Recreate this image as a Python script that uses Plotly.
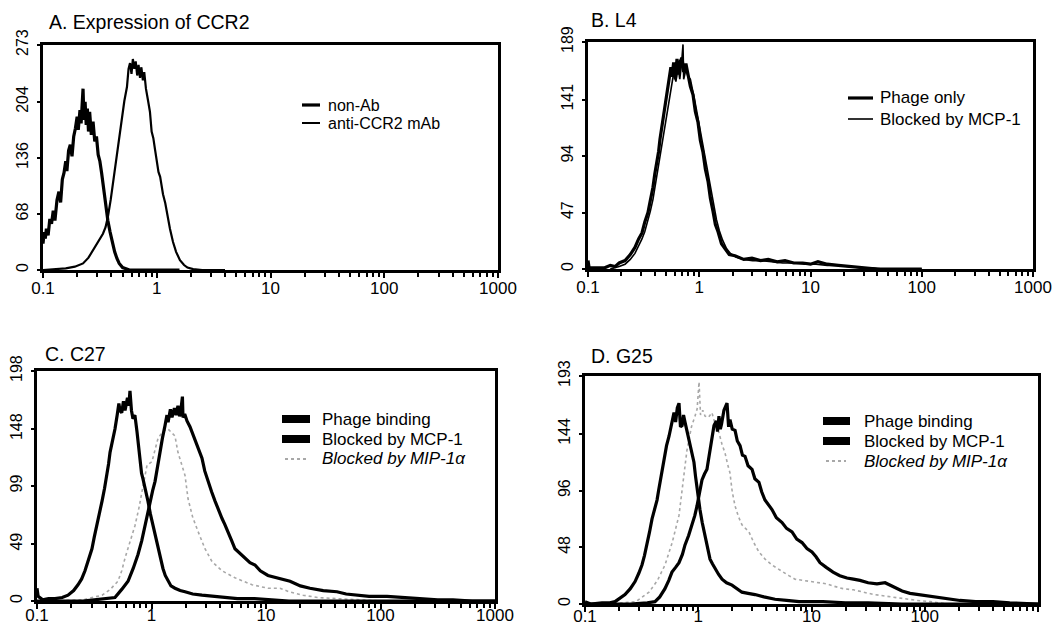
import numpy as np
import plotly.graph_objects as go

# ---------------- data (log10 fluorescence intensity, cell count) ----------------
# Panel A: Expression of CCR2
a_nonab = [(-1.00, 32), (-0.99, 46), (-0.98, 38), (-0.97, 50), (-0.955, 42), (-0.94, 62), (-0.925, 56),
           (-0.91, 72), (-0.895, 60), (-0.877, 85), (-0.86, 95), (-0.845, 82), (-0.83, 110), (-0.815, 118),
           (-0.80, 132), (-0.79, 120), (-0.775, 145), (-0.76, 152), (-0.745, 138), (-0.73, 162), (-0.715, 172),
           (-0.70, 186), (-0.69, 170), (-0.675, 194), (-0.665, 178), (-0.655, 208), (-0.648, 220), (-0.64, 182),
           (-0.63, 204), (-0.62, 176), (-0.61, 196), (-0.60, 168), (-0.59, 192), (-0.575, 164), (-0.56, 180),
           (-0.545, 156), (-0.53, 162), (-0.515, 140), (-0.50, 132), (-0.485, 118), (-0.47, 101), (-0.45, 80),
           (-0.43, 60), (-0.41, 46), (-0.39, 32), (-0.37, 22), (-0.35, 14), (-0.33, 8), (-0.30, 3),
           (-0.27, 1), (-0.24, 0), (0.2, 0)]
a_anti = [(-1.00, 0), (-0.90, 1), (-0.80, 2), (-0.72, 4), (-0.648, 8), (-0.60, 15), (-0.56, 24), (-0.52, 33),
          (-0.473, 44), (-0.45, 52), (-0.429, 65), (-0.405, 85), (-0.385, 105), (-0.362, 128), (-0.341, 150),
          (-0.322, 170), (-0.305, 186), (-0.285, 205), (-0.262, 222), (-0.248, 244), (-0.235, 251),
          (-0.222, 238), (-0.21, 256), (-0.197, 244), (-0.185, 253), (-0.172, 236), (-0.16, 249),
          (-0.147, 233), (-0.135, 246), (-0.122, 230), (-0.11, 240), (-0.095, 220), (-0.077, 206),
          (-0.06, 192), (-0.045, 168), (-0.03, 160), (-0.015, 146), (0.00, 134), (0.015, 119), (0.03, 113),
          (0.055, 92), (0.075, 81), (0.09, 69), (0.116, 50), (0.143, 34), (0.17, 22), (0.204, 12),
          (0.24, 6), (0.27, 3), (0.32, 1), (0.40, 0), (0.6, 0)]

# Panel B: L4
b_phage = [(-1.0, 7), (-0.99, 1), (-0.95, 1), (-0.85, 1), (-0.80, 3), (-0.757, 2), (-0.72, 5), (-0.667, 7),
           (-0.62, 12), (-0.578, 18), (-0.545, 25), (-0.515, 30), (-0.49, 39), (-0.461, 47), (-0.44, 57),
           (-0.416, 68), (-0.40, 79), (-0.38, 88), (-0.365, 98), (-0.353, 108), (-0.33, 123), (-0.308, 136),
           (-0.285, 150), (-0.27, 158), (-0.255, 168), (-0.245, 160), (-0.23, 172), (-0.215, 158),
           (-0.2, 175), (-0.185, 162), (-0.17, 173), (-0.155, 176), (-0.14, 164), (-0.12, 171),
           (-0.101, 162), (-0.08, 152), (-0.056, 145), (-0.035, 131), (-0.011, 122), (0.01, 107),
           (0.034, 97), (0.055, 83), (0.079, 73), (0.10, 59), (0.124, 48), (0.145, 37), (0.169, 31),
           (0.20, 21), (0.231, 17), (0.27, 12), (0.321, 11), (0.40, 8), (0.474, 9), (0.55, 7), (0.62, 8),
           (0.70, 6), (0.771, 7), (0.85, 5), (0.93, 5), (1.0, 4), (1.067, 6), (1.15, 4), (1.25, 3),
           (1.355, 2), (1.45, 1), (1.6, 0), (2.0, 0)]
b_mcp1 = [(-0.80, 0), (-0.72, 2), (-0.667, 4), (-0.62, 8), (-0.578, 13), (-0.545, 19), (-0.515, 25),
          (-0.49, 31), (-0.461, 40), (-0.44, 48), (-0.416, 58), (-0.395, 70), (-0.375, 82), (-0.355, 92),
          (-0.34, 100), (-0.315, 116), (-0.295, 128), (-0.272, 142), (-0.25, 152), (-0.23, 163),
          (-0.21, 156), (-0.19, 168), (-0.175, 158), (-0.16, 170), (-0.146, 187), (-0.14, 158),
          (-0.12, 166), (-0.10, 160), (-0.08, 158), (-0.06, 150), (-0.04, 140), (-0.02, 130), (0.00, 120),
          (0.02, 110), (0.045, 97), (0.065, 86), (0.09, 74), (0.11, 62), (0.135, 50), (0.155, 41),
          (0.18, 32), (0.21, 24), (0.245, 17), (0.28, 13), (0.33, 10), (0.40, 8), (0.48, 7), (0.56, 7),
          (0.65, 6), (0.75, 5), (0.85, 5), (0.95, 4), (1.05, 4), (1.15, 3), (1.25, 3), (1.35, 2),
          (1.45, 1), (1.55, 1), (1.65, 0), (2.0, 0)]

# Panel C: C27
c_phage = [(-1.0, 0), (-0.6, 0), (-0.5, 1), (-0.40, 2), (-0.319, 3), (-0.26, 10), (-0.205, 17), (-0.16, 28),
           (-0.118, 40), (-0.085, 52), (-0.057, 65), (-0.035, 76), (-0.013, 86), (0.01, 95), (0.031, 103),
           (0.05, 115), (0.074, 129), (0.095, 140), (0.118, 151), (0.135, 160), (0.145, 154), (0.165, 165),
           (0.179, 158), (0.20, 166), (0.215, 160), (0.231, 168), (0.245, 159), (0.255, 163), (0.27, 176),
           (0.275, 158), (0.29, 161), (0.31, 155), (0.336, 150), (0.36, 144), (0.38, 140), (0.41, 131),
           (0.441, 123), (0.465, 112), (0.493, 103), (0.525, 94), (0.555, 86), (0.585, 78), (0.616, 71),
           (0.64, 66), (0.668, 60), (0.70, 52), (0.729, 45), (0.76, 42), (0.79, 39), (0.817, 37),
           (0.86, 33), (0.904, 31), (0.95, 26), (1.017, 22), (1.10, 20), (1.21, 17), (1.30, 13),
           (1.384, 11), (1.50, 9), (1.62, 8), (1.70, 6), (1.795, 5), (1.90, 4), (2.057, 4), (2.2, 3),
           (2.345, 2), (2.5, 1), (2.633, 1), (2.8, 0), (3.0, 0)]
c_mcp1 = [(-1.0, 11), (-0.99, 4), (-0.95, 1), (-0.90, 2), (-0.843, 2), (-0.78, 3), (-0.729, 5), (-0.68, 9),
          (-0.642, 14), (-0.61, 19), (-0.581, 26), (-0.55, 35), (-0.52, 45), (-0.50, 55), (-0.476, 65),
          (-0.455, 75), (-0.432, 86), (-0.41, 97), (-0.389, 108), (-0.375, 118), (-0.362, 128), (-0.34, 138),
          (-0.319, 148), (-0.30, 160), (-0.285, 170), (-0.275, 164), (-0.26, 162), (-0.245, 172),
          (-0.231, 164), (-0.21, 175), (-0.198, 168), (-0.188, 181), (-0.175, 164), (-0.162, 157),
          (-0.145, 160), (-0.127, 146), (-0.113, 132), (-0.10, 120), (-0.087, 110), (-0.074, 105),
          (-0.05, 95), (-0.031, 86), (-0.01, 75), (0.013, 65), (0.035, 55), (0.057, 45), (0.08, 36),
          (0.10, 28), (0.12, 22), (0.144, 17), (0.17, 13), (0.205, 11), (0.25, 9), (0.293, 8), (0.36, 6),
          (0.441, 5), (0.53, 4), (0.616, 3), (0.75, 2), (0.9, 2), (1.05, 1), (1.2, 0), (3.0, 0)]
c_mip1a = [(-0.9, 0), (-0.6, 1), (-0.432, 5), (-0.36, 10), (-0.293, 17), (-0.26, 26), (-0.231, 37),
           (-0.19, 50), (-0.144, 65), (-0.11, 80), (-0.083, 94), (-0.06, 105), (-0.039, 117), (0.004, 120),
           (0.03, 130), (0.057, 140), (0.10, 146), (0.144, 148), (0.175, 145), (0.205, 142), (0.231, 128),
           (0.26, 118), (0.293, 108), (0.319, 88), (0.36, 72), (0.406, 60), (0.467, 45), (0.528, 34),
           (0.616, 26), (0.729, 20), (0.80, 17), (0.878, 14), (1.017, 11), (1.122, 11), (1.2, 8),
           (1.323, 5), (1.45, 3), (1.62, 2), (1.8, 1), (2.0, 0)]

# Panel D: G25
d_phage = [(-1.0, 0), (-0.6, 0), (-0.45, 1), (-0.382, 2), (-0.34, 6), (-0.294, 13), (-0.26, 20), (-0.232, 27),
           (-0.20, 31), (-0.17, 35), (-0.14, 42), (-0.117, 50), (-0.085, 58), (-0.055, 67), (-0.03, 75),
           (-0.011, 83), (0.01, 94), (0.033, 105), (0.055, 110), (0.077, 114), (0.09, 122), (0.104, 131),
           (0.12, 140), (0.139, 151), (0.16, 155), (0.17, 146), (0.183, 159), (0.195, 148), (0.205, 152),
           (0.227, 164), (0.254, 170), (0.268, 150), (0.28, 156), (0.30, 148), (0.325, 147), (0.345, 138),
           (0.369, 134), (0.39, 126), (0.413, 125), (0.44, 117), (0.475, 114), (0.50, 106), (0.536, 103),
           (0.56, 95), (0.589, 88), (0.62, 84), (0.651, 80), (0.69, 73), (0.74, 69), (0.78, 64),
           (0.828, 61), (0.87, 55), (0.916, 52), (0.96, 47), (1.004, 44), (1.04, 40), (1.075, 35),
           (1.13, 31), (1.19, 27), (1.25, 24), (1.313, 22), (1.37, 21), (1.428, 20), (1.5, 18), (1.578, 17),
           (1.65, 18), (1.72, 15), (1.80, 11), (1.87, 9), (1.95, 8), (2.02, 7), (2.1, 6), (2.161, 5),
           (2.25, 4), (2.311, 3), (2.45, 2), (2.603, 2), (2.75, 1), (2.9, 0), (3.0, 0)]
d_mcp1 = [(-1.0, 2), (-0.95, 0), (-0.85, 1), (-0.78, 1), (-0.735, 2), (-0.69, 5), (-0.647, 8), (-0.60, 13),
          (-0.558, 19), (-0.525, 26), (-0.497, 33), (-0.475, 41), (-0.453, 50), (-0.43, 61), (-0.408, 72),
          (-0.385, 80), (-0.364, 88), (-0.35, 96), (-0.338, 103), (-0.32, 114), (-0.302, 125), (-0.28, 134),
          (-0.258, 142), (-0.24, 150), (-0.225, 158), (-0.214, 162), (-0.2, 154), (-0.185, 166),
          (-0.17, 170), (-0.157, 150), (-0.143, 151), (-0.13, 160), (-0.117, 154), (-0.10, 146),
          (-0.082, 139), (-0.06, 130), (-0.038, 120), (-0.024, 108), (-0.011, 97), (0.015, 80), (0.035, 69),
          (0.06, 58), (0.08, 48), (0.104, 38), (0.125, 34), (0.148, 30), (0.18, 25), (0.21, 21), (0.25, 18),
          (0.298, 16), (0.34, 13), (0.386, 10), (0.44, 9), (0.501, 8), (0.58, 6), (0.678, 4), (0.78, 3),
          (0.89, 2), (1.1, 2), (1.3, 1), (1.5, 1), (1.8, 0), (3.0, 0)]
d_mip1a = [(-0.8, 0), (-0.55, 2), (-0.435, 10), (-0.36, 20), (-0.294, 33), (-0.23, 52), (-0.17, 75),
           (-0.14, 98), (-0.117, 120), (-0.1, 130), (-0.082, 139), (-0.06, 150), (-0.029, 159), (-0.01, 165),
           (0.007, 188), (0.02, 160), (0.04, 164), (0.06, 159), (0.09, 158), (0.121, 162), (0.15, 152),
           (0.183, 145), (0.21, 135), (0.236, 128), (0.26, 118), (0.28, 111), (0.30, 95), (0.325, 83),
           (0.355, 74), (0.386, 67), (0.448, 61), (0.49, 52), (0.536, 44), (0.59, 38), (0.651, 33),
           (0.70, 30), (0.74, 27), (0.80, 24), (0.854, 21), (0.92, 20), (0.978, 19), (1.05, 18),
           (1.137, 17), (1.2, 15), (1.278, 13), (1.37, 12), (1.455, 10), (1.55, 8), (1.631, 7), (1.70, 6),
           (1.781, 5), (1.85, 4), (1.932, 3), (2.05, 2), (2.2, 0)]

x_ticks = [0.1, 1, 10, 100, 1000]
x_ticktext = ["0.1", "1", "10", "100", "1000"]
y_ticks_a = [0, 68, 136, 204, 273]
y_ticks_b = [0, 47, 94, 141, 189]
y_ticks_c = [0, 49, 99, 148, 198]
y_ticks_d = [0, 48, 96, 144, 193]
titles = ["A. Expression of CCR2", "B. L4", "C. C27", "D. G25"]

# ---------------- figure ----------------
# The page body keeps an 8px margin, so the figure is 16px smaller than the window
# and all placements below are given in window pixels.
OFF = 8
W, H = 1044, 616
FONT = "Liberation Sans, Arial, Helvetica, sans-serif"
BLACK = "black"
GRAY = "#a8a8a8"


def xy(series):
    arr = np.array(series, dtype=float)
    return 10 ** arr[:, 0], arr[:, 1]


def fx(p):
    return (p - OFF) / W


def fy(p):
    return 1 - (p - OFF) / H


fig = go.Figure()


def add(series, name, xa, ya, width, color=BLACK, dash="solid"):
    x, y = xy(series)
    fig.add_trace(go.Scatter(x=x, y=y, mode="lines", name=name, xaxis=xa, yaxis=ya,
                             line=dict(color=color, width=width, dash=dash),
                             showlegend=False, hoverinfo="skip"))


# A
add(a_nonab, "non-Ab", "x", "y", 3.2)
add(a_anti, "anti-CCR2 mAb", "x", "y", 2.2)
# B
add(b_mcp1, "Blocked by MCP-1", "x2", "y2", 1.6)
add(b_phage, "Phage only", "x2", "y2", 3.2)
# C
add(c_mip1a, "Blocked by MIP-1α", "x3", "y3", 1.6, color=GRAY, dash="dot")
add(c_phage, "Phage binding", "x3", "y3", 3.2)
add(c_mcp1, "Blocked by MCP-1", "x3", "y3", 3.2)
# D
add(d_mip1a, "Blocked by MIP-1α", "x4", "y4", 1.6, color=GRAY, dash="dot")
add(d_phage, "Phage binding", "x4", "y4", 3.2)
add(d_mcp1, "Blocked by MCP-1", "x4", "y4", 3.2)

minor_vals = [m * 10 ** e for e in range(-1, 3) for m in range(2, 10)]


def xaxis(domain, anchor, standoff=-4):
    return dict(domain=domain, anchor=anchor, type="log", range=[-1, 3],
                tickvals=x_ticks, ticktext=x_ticktext, ticks="outside", ticklen=5, tickwidth=2,
                tickcolor=BLACK, showline=True, linewidth=2.5, linecolor=BLACK, mirror=True,
                showgrid=False, zeroline=False, ticklabelstandoff=standoff, automargin=False,
                tickfont=dict(family=FONT, size=17, color=BLACK),
                minor=dict(tickvals=minor_vals, ticks="outside", ticklen=4, tickwidth=1.5,
                           tickcolor=BLACK, showgrid=False))


def yaxis(domain, anchor, ticks):
    return dict(domain=domain, anchor=anchor, range=[0, ticks[-1]], tickvals=ticks,
                ticktext=[str(t) for t in ticks], tickangle=-90, ticks="outside", ticklen=3,
                tickwidth=1.5, tickcolor=BLACK, showline=True, linewidth=2.5, linecolor=BLACK,
                mirror=True, showgrid=False, zeroline=False, ticklabelstandoff=3, automargin=False,
                tickfont=dict(family=FONT, size=16, color=BLACK))


boxes = {  # window pixels: left, right, top, bottom
    "A": (43, 498, 45, 270),
    "B": (588, 1033, 42, 269),
    "C": (37, 495, 371, 601),
    "D": (585, 1038, 376, 604),
}


def dom(b):
    x0, x1, y0, y1 = b
    return [fx(x0), fx(x1)], [fy(y1), fy(y0)]


xa, ya = dom(boxes["A"])
xb, yb = dom(boxes["B"])
xc, yc = dom(boxes["C"])
xd, yd = dom(boxes["D"])

annotations = []
shapes = []


def text(t, x, y, size=17, anchor="left"):
    annotations.append(dict(text=t, x=fx(x), y=fy(y), xref="paper", yref="paper",
                            xanchor=anchor, yanchor="middle", showarrow=False, borderpad=0,
                            font=dict(family=FONT, size=size, color=BLACK)))


def key(x0, x1, y, width, color=BLACK, dash="solid"):
    shapes.append(dict(type="line", xref="paper", yref="paper", x0=fx(x0), x1=fx(x1),
                       y0=fy(y), y1=fy(y), line=dict(color=color, width=width, dash=dash)))


# panel titles
title_pos = [(48, 22), (590, 20), (44, 354), (590, 356)]
for t, (tx, ty) in zip(titles, title_pos):
    text(t, tx, ty, size=19.5)

# legend A
key(302, 320, 105, 3.2)
key(302, 320, 123, 2.0)
text("non-Ab", 327, 105, size=16)
text("anti-CCR2 mAb", 327, 123, size=16)
# legend B
key(848, 873, 98, 3.2)
key(848, 873, 119, 1.6)
text("Phage only", 879, 98)
text("Blocked by MCP-1", 879, 119)
# legend C
key(282, 310, 419, 8)
key(282, 310, 439, 8)
key(285, 306, 459, 2, color=GRAY, dash="dot")
text("Phage binding", 321, 419)
text("Blocked by MCP-1", 321, 439)
text("<i>Blocked by MIP-1α</i>", 321, 459)
# legend D
key(823, 850, 421, 8)
key(823, 850, 441, 8)
key(826, 846, 461, 2, color=GRAY, dash="dot")
text("Phage binding", 863, 421)
text("Blocked by MCP-1", 863, 441)
text("<i>Blocked by MIP-1α</i>", 863, 461)

fig.update_layout(
    width=W, height=H, autosize=False,
    margin=dict(l=0, r=0, t=0, b=0, autoexpand=False),
    paper_bgcolor="white", plot_bgcolor="white",
    xaxis=xaxis(xa, "y"), yaxis=yaxis(ya, "x", y_ticks_a),
    xaxis2=xaxis(xb, "y2"), yaxis2=yaxis(yb, "x2", y_ticks_b),
    xaxis3=xaxis(xc, "y3", standoff=-8), yaxis3=yaxis(yc, "x3", y_ticks_c),
    xaxis4=xaxis(xd, "y4", standoff=-10), yaxis4=yaxis(yd, "x4", y_ticks_d),
    annotations=annotations, shapes=shapes,
    showlegend=False,
)

# let tick labels that sit in the page margin stay visible
fig.write_html(
    "out.html",
    config={"displayModeBar": False},
    post_script="document.querySelectorAll('svg.main-svg').forEach(function(s){s.style.overflow='visible';});"
                "document.querySelectorAll('.svg-container, .plot-container').forEach(function(s){s.style.overflow='visible';});",
)
